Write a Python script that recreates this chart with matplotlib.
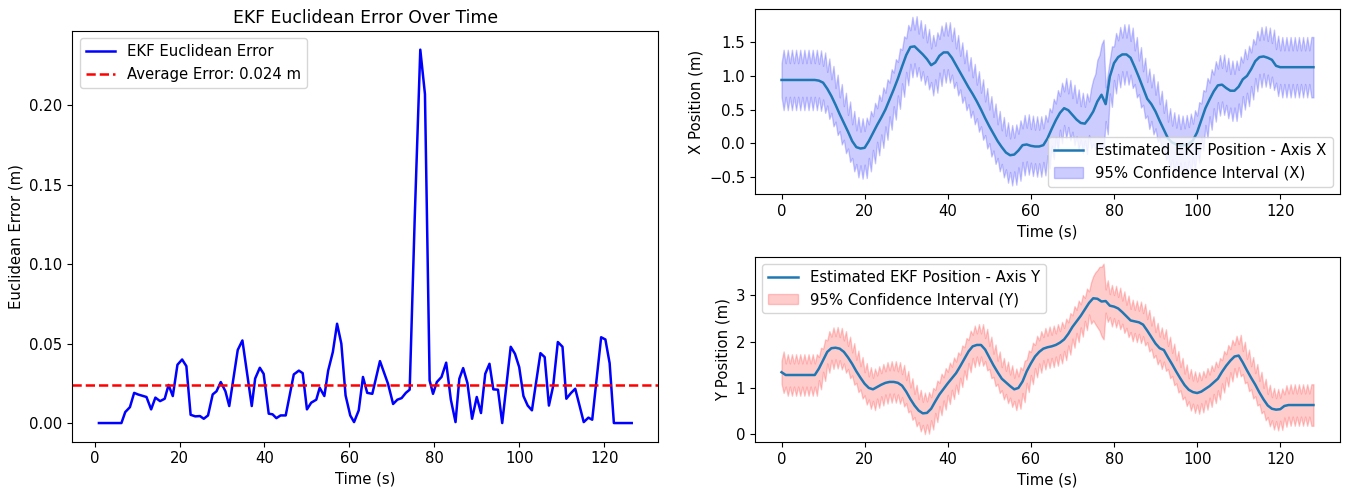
import numpy as np
import matplotlib
matplotlib.use('Agg')
import matplotlib.pyplot as plt

plt.rcParams['font.size'] = 10.7

# euclidean error of the EKF
err_t = [1, 6.3, 7.2, 8.3, 9.3, 10.2, 12.2, 13.3, 14.3, 15.4, 16.5, 17.4, 18.4, 19.5, 20.6,
         21.6, 22.6, 23.7, 24.8, 25.7, 26.7, 27.8, 28.7, 29.7, 30.8, 31.7, 33.7, 34.8, 37.0,
         37.8, 38.9, 39.8, 41.0, 41.9, 42.8, 43.8, 45.0, 46.9, 48.1, 49.0, 50.0, 51.0, 52.2,
         53.0, 54.1, 55.0, 56.1, 57.1, 58.1, 59.1, 60.2, 61.1, 62.2, 63.2, 64.2, 65.4, 67.2,
         69.1, 70.3, 71.3, 72.3, 73.3, 74.2, 75.4, 76.7, 77.8, 78.9, 79.7, 80.6, 81.7, 82.8,
         83.9, 85.0, 85.9, 86.8, 87.8, 88.9, 90.0, 91.0, 92.0, 93.0, 93.9, 95.0, 96.0, 98.0,
         99.0, 100.0, 101.0, 102.0, 103.0, 105.0, 106.0, 107.0, 108.0, 109.1, 110.2, 111.1,
         112.2, 113.2, 115.2, 116.3, 117.2, 119.3, 120.3, 121.3, 122.3, 126.5]
err_m = [0.0, 0.0, 0.0069, 0.010, 0.019, 0.018, 0.0164, 0.0086, 0.016, 0.0138, 0.0153, 0.024,
         0.017, 0.0367, 0.040, 0.0358, 0.0052, 0.0042, 0.0044, 0.0027, 0.0048, 0.018, 0.020,
         0.0258, 0.020, 0.0107, 0.046, 0.052, 0.0107, 0.028, 0.0348, 0.031, 0.0059, 0.0055,
         0.0031, 0.0048, 0.0048, 0.0306, 0.033, 0.0314, 0.0086, 0.0128, 0.0147, 0.0222, 0.017,
         0.033, 0.0447, 0.0625, 0.050, 0.0174, 0.0048, 0.0006, 0.008, 0.029, 0.019, 0.0184,
         0.039, 0.0247, 0.012, 0.0147, 0.0157, 0.019, 0.021, 0.13, 0.235, 0.207, 0.0268, 0.0184,
         0.0258, 0.029, 0.038, 0.0147, 0.0006, 0.0279, 0.0346, 0.0252, 0.0027, 0.0164, 0.0063,
         0.031, 0.0373, 0.0212, 0.021, 0.0, 0.048, 0.0436, 0.0352, 0.017, 0.011, 0.008, 0.044,
         0.0415, 0.011, 0.0233, 0.051, 0.048, 0.0153, 0.0189, 0.0216, 0.0006, 0.0034, 0.0021,
         0.054, 0.0526, 0.0377, 0.0, 0.0]
avg_error = 0.024

# estimated position, one value per second (t = 0..128)
x_pos = [0.94, 0.94, 0.94, 0.94, 0.94, 0.94, 0.94, 0.94, 0.94, 0.93,
         0.90, 0.81, 0.70, 0.57, 0.43, 0.30, 0.17, 0.03, -0.06, -0.08,
         -0.07, 0.03, 0.15, 0.27, 0.38, 0.50, 0.65, 0.80, 0.96, 1.14,
         1.31, 1.43, 1.44, 1.38, 1.32, 1.25, 1.16, 1.20, 1.30, 1.35,
         1.35, 1.27, 1.16, 1.05, 0.94, 0.83, 0.73, 0.62, 0.50, 0.37,
         0.25, 0.14, 0.03, -0.06, -0.14, -0.18, -0.17, -0.11, -0.03, -0.02,
         -0.04, -0.05, -0.05, -0.03, 0.07, 0.21, 0.34, 0.45, 0.52, 0.49,
         0.42, 0.35, 0.30, 0.29, 0.37, 0.47, 0.62, 0.72, 0.58, 0.99,
         1.19, 1.28, 1.32, 1.32, 1.27, 1.13, 0.98, 0.82, 0.66, 0.58,
         0.47, 0.33, 0.20, 0.07, 0.01, -0.02, -0.04, -0.03, -0.01, 0.04,
         0.16, 0.34, 0.52, 0.65, 0.77, 0.86, 0.87, 0.82, 0.78, 0.78,
         0.84, 0.95, 1.00, 1.10, 1.22, 1.28, 1.29, 1.27, 1.24, 1.15,
         1.13, 1.13, 1.13, 1.13, 1.13, 1.13, 1.13, 1.13, 1.13]
y_pos = [1.34, 1.28, 1.28, 1.28, 1.28, 1.28, 1.28, 1.28, 1.28, 1.42,
         1.60, 1.78, 1.86, 1.87, 1.85, 1.78, 1.66, 1.52, 1.36, 1.22,
         1.09, 1.00, 0.97, 1.02, 1.07, 1.11, 1.13, 1.13, 1.11, 1.05,
         0.92, 0.76, 0.62, 0.51, 0.45, 0.46, 0.55, 0.71, 0.86, 0.98,
         1.10, 1.21, 1.32, 1.47, 1.63, 1.79, 1.90, 1.93, 1.93, 1.83,
         1.66, 1.49, 1.34, 1.20, 1.12, 1.04, 0.97, 1.00, 1.14, 1.36,
         1.53, 1.68, 1.78, 1.85, 1.88, 1.90, 1.93, 1.98, 2.05, 2.17,
         2.32, 2.44, 2.56, 2.70, 2.84, 2.94, 2.93, 2.87, 2.88, 2.78,
         2.76, 2.72, 2.64, 2.55, 2.46, 2.44, 2.42, 2.37, 2.24, 2.10,
         1.96, 1.86, 1.82, 1.66, 1.51, 1.35, 1.20, 1.06, 0.96, 0.91,
         0.89, 0.92, 0.98, 1.04, 1.12, 1.20, 1.35, 1.48, 1.59, 1.68,
         1.70, 1.55, 1.38, 1.22, 1.07, 0.90, 0.75, 0.62, 0.55, 0.53,
         0.54, 0.61, 0.63, 0.63, 0.63, 0.63, 0.63, 0.63, 0.63]

# 95% CI half-width per 1 s cycle: just after update (narrow) and mid-cycle (wide)
ci_narrow = [0.25] * 75 + [0.48, 0.62, 0.75] + [0.25] * 50
ci_wide = [0.45] * 75 + [0.56, 0.69, 0.82] + [0.45] * 50


def band(pos):
    t, c, h = [], [], []
    for k in range(len(ci_narrow)):
        t += [k, k + 0.5]
        c += [pos[k], pos[k]]
        h += [ci_narrow[k], ci_wide[k]]
    t.append(len(ci_narrow))
    c.append(pos[-1])
    h.append(ci_wide[-1])
    c, h = np.array(c), np.array(h)
    return t, c - h, c + h


fig = plt.figure(figsize=(13.51, 4.92), dpi=100)
ax_err = fig.add_axes([0.0535, 0.1022, 0.4338, 0.8348])
ax_x = fig.add_axes([0.5588, 0.6057, 0.4331, 0.376])
ax_y = fig.add_axes([0.5588, 0.1016, 0.4331, 0.3767])

ax_err.plot(err_t, err_m, color='blue', lw=1.8, label='EKF Euclidean Error')
ax_err.axhline(avg_error, color='red', linestyle='--', lw=1.8, label=f'Average Error: {avg_error:.3f} m')
ax_err.set_title('EKF Euclidean Error Over Time', fontsize=12.4)
ax_err.set_xlabel('Time (s)')
ax_err.set_ylabel('Euclidean Error (m)')
ax_err.legend(loc='upper left')

t_sec = np.arange(len(x_pos))

bt, lo, hi = band(x_pos)
ax_x.plot(t_sec, x_pos, lw=1.8, label='Estimated EKF Position - Axis X')
ax_x.fill_between(bt, lo, hi, color='blue', alpha=0.2, label='95% Confidence Interval (X)')
ax_x.set_ylim(-0.757, 1.996)
ax_x.set_xlabel('Time (s)')
ax_x.set_ylabel('X Position (m)')
ax_x.legend(loc='lower right')

bt, lo, hi = band(y_pos)
ax_y.plot(t_sec, y_pos, lw=1.8, label='Estimated EKF Position - Axis Y')
ax_y.fill_between(bt, lo, hi, color='red', alpha=0.2, label='95% Confidence Interval (Y)')
ax_y.set_ylim(-0.17, 3.84)
ax_y.set_xlabel('Time (s)')
ax_y.set_ylabel('Y Position (m)')
ax_y.legend(loc='upper left')

fig.savefig('out.png', dpi=100)
